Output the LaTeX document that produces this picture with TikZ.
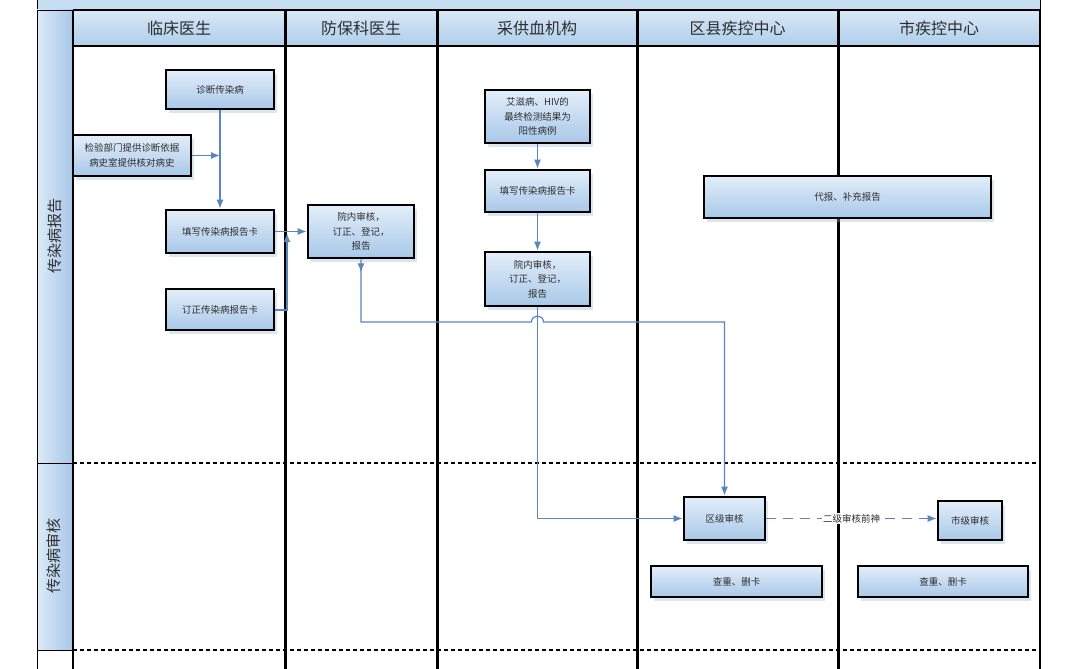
\documentclass[tikz,border=0pt]{standalone}
\usepackage{fontspec}
\setmainfont{Noto Sans CJK SC}
\usetikzlibrary{arrows.meta,shadows,decorations.markings,calc}
\definecolor{boxtop}{HTML}{E3EEF9}
\definecolor{boxbot}{HTML}{A8C8E9}
\definecolor{hdrtop}{HTML}{D9E8F7}
\definecolor{hdrbot}{HTML}{AFCEEB}
\definecolor{lblleft}{HTML}{DCEAF8}
\definecolor{lblright}{HTML}{A6C6E8}
\definecolor{connc}{HTML}{5A86BE}
\definecolor{txtc}{HTML}{2E2E2E}
\definecolor{shadc}{HTML}{9DB8D4}
\tikzset{
  procbox/.style={draw=black, line width=2.6pt, top color=boxtop, bottom color=boxbot,
    drop shadow={shadow xshift=3pt, shadow yshift=-4pt, opacity=0.35, fill=shadc},
    align=center, inner sep=0pt, text=txtc, font=\fontsize{9.5}{14.5}\selectfont},
  hdrcell/.style={top color=hdrtop, bottom color=hdrbot, minimum height=36pt, inner sep=0pt,
    text=txtc, font=\fontsize{16}{19}\selectfont},
  phaselbl/.style={draw=black, line width=0.8pt, left color=lblleft, right color=lblright},
  lane/.style={line width=3pt, black},
  sep/.style={line width=2.2pt, dash pattern=on 4pt off 3pt},
  conn/.style={draw=connc, line width=1.2pt, -{Latex[length=9pt,width=7pt]}},
  midarrow/.style={postaction={decorate}, decoration={markings,
    mark=at position 13pt with {\arrow[connc]{Latex[length=9pt,width=7pt]}}}}
}
\begin{document}
\begin{tikzpicture}[x=1pt,y=-1pt]
\useasboundingbox (0,0) rectangle (1080,669);
\fill[white] (0,0) rectangle (1080,669);
% top strip of the pool
\draw[line width=0.8pt, fill=hdrbot!70!white] (37,-5) rectangle (1040,10);
% phase labels
\draw[phaselbl] (37,10) rectangle (73,463);
\draw[phaselbl] (37,463) rectangle (73,650);
\draw[line width=0.8pt] (37,650) -- (37,669);
\node[rotate=90, text=txtc, font=\fontsize{15}{17}\selectfont] (p1) at (55,236) {传染病报告};
\node[rotate=90, text=txtc, font=\fontsize{15}{17}\selectfont] (p2) at (54,556) {传染病审核};
% header cells
\node[hdrcell, minimum width=212pt] (h1) at (179,28) {临床医生};
\node[hdrcell, minimum width=152pt] (h2) at (361,28) {防保科医生};
\node[hdrcell, minimum width=200pt] (h3) at (537,28) {采供血机构};
\node[hdrcell, minimum width=201pt] (h4) at (737.5,28) {区县疾控中心};
\node[hdrcell, minimum width=202pt] (h5) at (939,28) {市疾控中心};
\draw[line width=2.5pt] (73,10) -- (1040,10);
\draw[line width=2.5pt] (73,46) -- (1040,46);
% lanes
\draw[line width=1.6pt] (73,10) -- (73,669);
\foreach \xx in {285,437,637,838} \draw[lane] (\xx,10) -- (\xx,669);
\draw[line width=2.6pt] (1040,10) -- (1040,669);
% phase separators
\draw[sep] (73,463) -- (1040,463);
\draw[sep] (73,650) -- (1040,650);
% process boxes
\node[procbox, minimum width=108pt, minimum height=39pt] (zd) at (220,89.5) {诊断传染病};
\node[procbox, minimum width=118pt, minimum height=41pt] (jy) at (132,155.5) {检验部门提供诊断依据\\病史室提供核对病史};
\node[procbox, minimum width=108pt, minimum height=43pt] (tx1) at (220,231.5) {填写传染病报告卡};
\node[procbox, minimum width=108pt, minimum height=41pt] (dz) at (220,309.5) {订正传染病报告卡};
\node[procbox, minimum width=106pt, minimum height=53pt] (fb) at (361,231.5) {院内审核，\\订正、登记，\\报告};
\node[procbox, minimum width=105pt, minimum height=53pt] (az) at (537.5,116.5) {艾滋病、HIV的\\最终检测结果为\\阳性病例};
\node[procbox, minimum width=105pt, minimum height=42pt] (tx2) at (537.5,191) {填写传染病报告卡};
\node[procbox, minimum width=105pt, minimum height=54pt] (yn2) at (537.5,279) {院内审核，\\订正、登记，\\报告};
\node[procbox, minimum width=287pt, minimum height=42pt] (db) at (847.5,197) {代报、补充报告};
\node[procbox, minimum width=81pt, minimum height=43pt] (qj) at (724.5,518.5) {区级审核};
\node[procbox, minimum width=64pt, minimum height=39pt] (sj) at (970,520.5) {市级审核};
\node[procbox, minimum width=171pt, minimum height=31pt] (cc1) at (736.5,581.5) {查重、删卡};
\node[procbox, minimum width=170pt, minimum height=31pt] (cc2) at (943,581.5) {查重、删卡};
% connectors
\draw[conn] (zd.south) -- (tx1.north);
\draw[conn] (jy.east) -- (jy.east -| zd.south);
\draw[conn] (tx1.east) -- (fb.west);
\coordinate (jn) at (287,233);
\draw[conn, line width=2pt] (dz.east) -| (jn);
\draw[conn] (az.south) -- (tx2.north);
\draw[conn] (tx2.south) -- (yn2.north);
\coordinate (yr) at (0,322);
\coordinate (hop) at (yn2.south |- yr);
\draw[conn, midarrow] (fb.south) -- (fb.south |- yr) -- ($(hop)+(-6,0)$)
  .. controls +(0,-8) and +(0,-8) .. ($(hop)+(6,0)$) -- (qj.north |- yr) -- (qj.north);
\draw[conn] (yn2.south) |- (qj.west);
\draw[conn, dash pattern=on 10pt off 7pt] (qj.east) -- (qj.east -| sj.west)
  node[midway, fill=white, inner sep=1pt, text=txtc, font=\fontsize{9.5}{11}\selectfont] (lb) {二级审核前神};
\end{tikzpicture}
\end{document}
